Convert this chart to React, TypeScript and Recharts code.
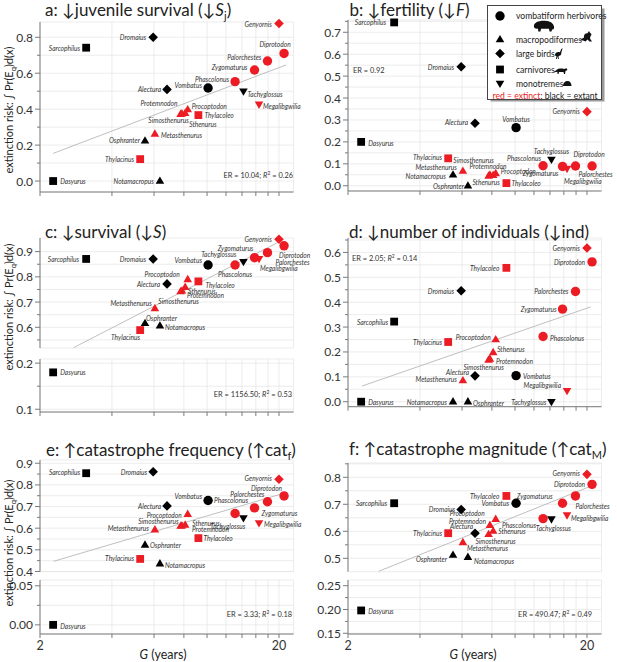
import { CartesianGrid, Scatter, ScatterChart, XAxis, YAxis } from 'recharts';

type Anchor = 'start' | 'middle' | 'end';
type Spot = [number, number, Anchor];

// species and their traits
const species = ['Dasyurus', 'Sarcophilus', 'Thylacinus', 'Thylacoleo', 'Dromaius', 'Alectura', 'Genyornis', 'Osphranter', 'Notamacropus', 'Metasthenurus', 'Simosthenurus', 'Protemnodon', 'Sthenurus', 'Procoptodon', 'Vombatus', 'Phascolonus', 'Zygomaturus', 'Palorchestes', 'Diprotodon', 'Tachyglossus', 'Megalibgwilia'];
const groups = ['carnivore', 'carnivore', 'carnivore', 'carnivore', 'bird', 'bird', 'bird', 'macropod', 'macropod', 'macropod', 'macropod', 'macropod', 'macropod', 'macropod', 'vombatiform', 'vombatiform', 'vombatiform', 'vombatiform', 'vombatiform', 'monotreme', 'monotreme'];
const extinct = [false, false, true, true, false, false, true, false, false, true, true, true, true, true, false, true, true, true, true, false, true];
const generationYears = [2.27, 3.12, 5.25, 9.2, 5.95, 6.8, 20.0, 5.5, 6.35, 6.05, 7.75, 7.85, 8.1, 8.3, 10.1, 13.1, 15.8, 17.9, 21.0, 14.2, 16.5];

// extinction risk per scenario (same order as species)
const juvenileSurvivalRisk = [0.0, 0.742, 0.122, 0.367, 0.8, 0.51, 0.877, 0.224, 0.0, 0.262, 0.372, 0.375, 0.378, 0.398, 0.518, 0.553, 0.618, 0.668, 0.71, 0.5, 0.427];
const fertilityRisk = [0.2, 0.745, 0.125, 0.012, 0.543, 0.285, 0.338, 0.05, 0.0, 0.067, 0.045, 0.05, 0.048, 0.056, 0.265, 0.091, 0.088, 0.09, 0.09, 0.12, 0.078];
const survivalRisk = [0.18, 0.871, 0.589, 0.782, 0.871, 0.772, 0.949, 0.616, 0.606, 0.675, 0.742, 0.745, 0.759, 0.79, 0.847, 0.847, 0.876, 0.896, 0.923, 0.86, 0.872];
const individualsRisk = [0.0, 0.322, 0.24, 0.538, 0.446, 0.104, 0.618, 0.0, 0.0, 0.085, 0.168, 0.172, 0.198, 0.25, 0.105, 0.262, 0.372, 0.443, 0.562, 0.0, 0.044];
const catFrequencyRisk = [0.0, 0.854, 0.458, 0.554, 0.861, 0.703, 0.826, 0.523, 0.436, 0.593, 0.61, 0.612, 0.615, 0.665, 0.728, 0.668, 0.694, 0.722, 0.749, 0.647, 0.624];
const catMagnitudeRisk = [0.198, 0.704, 0.593, 0.731, 0.681, 0.593, 0.811, 0.512, 0.504, 0.559, 0.589, 0.623, 0.601, 0.645, 0.704, 0.647, 0.704, 0.731, 0.774, 0.645, 0.66];

// fitted trend end points
const trendJuvenileG = [2.27, 21.4];
const trendJuvenileRisk = [0.154, 0.646];
const trendSurvivalG = [2.76, 20.5];
const trendSurvivalRisk = [0.519, 0.944];
const trendIndividualsG = [2.29, 20.7];
const trendIndividualsRisk = [0.063, 0.381];
const trendFrequencyG = [2.28, 20.6];
const trendFrequencyRisk = [0.447, 0.759];
const trendMagnitudeG = [2.69, 21.0];
const trendMagnitudeRisk = [0.452, 0.769];

// axis ticks
const gTicks = [2, 4, 6, 8, 10, 12, 14, 16, 18, 20];
const gTickLabels = [2, 20];
const ticksA = [0, 0.1, 0.2, 0.3, 0.4, 0.5, 0.6, 0.7, 0.8];
const labelsA = [0, 0.2, 0.4, 0.6, 0.8];
const ticksB = [0, 0.05, 0.1, 0.15, 0.2, 0.25, 0.3, 0.35, 0.4, 0.45, 0.5, 0.55, 0.6, 0.65, 0.7, 0.75];
const labelsB = [0, 0.1, 0.2, 0.3, 0.4, 0.5, 0.6, 0.7];
const ticksCUpper = [0.55, 0.6, 0.65, 0.7, 0.75, 0.8, 0.85, 0.9];
const labelsCUpper = [0.6, 0.7, 0.8, 0.9];
const ticksCLower = [0.1, 0.15, 0.2];
const labelsCLower = [0.1, 0.2];
const ticksD = [0, 0.05, 0.1, 0.15, 0.2, 0.25, 0.3, 0.35, 0.4, 0.45, 0.5, 0.55, 0.6, 0.65];
const labelsD = [0, 0.1, 0.2, 0.3, 0.4, 0.5, 0.6];
const ticksEUpper = [0.4, 0.45, 0.5, 0.55, 0.6, 0.65, 0.7, 0.75, 0.8, 0.85, 0.9];
const labelsEUpper = [0.4, 0.5, 0.6, 0.7, 0.8, 0.9];
const ticksELower = [0, 0.025, 0.05];
const labelsELower = [0, 0.05];
const ticksFUpper = [0.5, 0.55, 0.6, 0.65, 0.7, 0.75, 0.8, 0.85];
const labelsFUpper = [0.5, 0.6, 0.7, 0.8];
const ticksFLower = [0.15, 0.175, 0.2, 0.225, 0.25];
const labelsFLower = [0.15, 0.2, 0.25];

// where each species name sits next to its marker, per panel
const spotsA: Record<string, Spot> = {
  Dasyurus: [7, 0, 'start'], Sarcophilus: [-6, 0, 'end'], Thylacinus: [-6, 0, 'end'], Thylacoleo: [6, 0, 'start'],
  Dromaius: [-7, 0, 'end'], Alectura: [-6, 0, 'end'], Genyornis: [-7, 1, 'end'], Osphranter: [-5, -1, 'end'],
  Notamacropus: [-6, 0, 'end'], Metasthenurus: [6, 1, 'start'], Simosthenurus: [-12, 6, 'middle'], Protemnodon: [-23, -11, 'middle'],
  Sthenurus: [4, 11, 'start'], Procoptodon: [4, -4, 'start'], Vombatus: [-6, -3, 'end'], Phascolonus: [-6, -3, 'end'],
  Zygomaturus: [-7, -3, 'end'], Palorchestes: [-6, -4, 'end'], Diprotodon: [-9, -9, 'middle'], Tachyglossus: [4, 3, 'start'],
  Megalibgwilia: [4, 2, 'start'],
};
const spotsB: Record<string, Spot> = {
  Dasyurus: [7, 1, 'start'], Sarcophilus: [-8, 0, 'end'], Thylacinus: [-6, -1, 'end'], Thylacoleo: [5, 0, 'start'],
  Dromaius: [-7, 0, 'end'], Alectura: [-7, -1, 'end'], Genyornis: [-7, -1, 'end'], Osphranter: [11, 11, 'end'],
  Notamacropus: [-22, -10, 'end'], Metasthenurus: [-6, -4, 'end'], Simosthenurus: [-15, -16, 'middle'], Protemnodon: [-2, -9, 'middle'],
  Sthenurus: [-7, 7, 'middle'], Procoptodon: [5, -2, 'start'], Vombatus: [0, -9, 'middle'], Phascolonus: [-2, -8, 'end'],
  Zygomaturus: [-4, 7, 'end'], Palorchestes: [3, 8, 'start'], Diprotodon: [-3, -12, 'middle'], Tachyglossus: [0, -8, 'middle'],
  Megalibgwilia: [-3, 12, 'start'],
};
const spotsC: Record<string, Spot> = {
  Dasyurus: [7, 0, 'start'], Sarcophilus: [-7, 0, 'end'], Thylacinus: [0, 7, 'end'], Thylacoleo: [7, 4, 'start'],
  Dromaius: [-7, 0, 'end'], Alectura: [-7, 0, 'end'], Genyornis: [-7, 0, 'end'], Osphranter: [1, -5, 'start'],
  Notamacropus: [5, 1, 'start'], Metasthenurus: [-3, -5, 'end'], Simosthenurus: [-2, 10, 'middle'], Protemnodon: [5, 4, 'start'],
  Sthenurus: [3, 4, 'start'], Procoptodon: [-8, -5, 'end'], Vombatus: [-6, -5, 'end'], Phascolonus: [0, 9, 'middle'],
  Zygomaturus: [-1, -10, 'end'], Palorchestes: [8, 9, 'start'], Diprotodon: [-5, 9, 'start'], Tachyglossus: [-7, -8, 'end'],
  Megalibgwilia: [1, 9, 'start'],
};
const spotsD: Record<string, Spot> = {
  Dasyurus: [7, 0, 'start'], Sarcophilus: [-6, 0, 'end'], Thylacinus: [-6, 0, 'end'], Thylacoleo: [-7, 0, 'end'],
  Dromaius: [-7, 0, 'end'], Alectura: [-6, -4, 'end'], Genyornis: [-7, 0, 'end'], Osphranter: [20, 1, 'start'],
  Notamacropus: [-21, 0, 'end'], Metasthenurus: [-6, -2, 'end'], Simosthenurus: [-5, 7, 'middle'], Protemnodon: [6, 2, 'start'],
  Sthenurus: [4, -3, 'start'], Procoptodon: [-5, -3, 'end'], Vombatus: [7, 0, 'start'], Phascolonus: [7, 1, 'start'],
  Zygomaturus: [-6, 0, 'end'], Palorchestes: [-7, 0, 'end'], Diprotodon: [-7, 0, 'end'], Tachyglossus: [-5, 0, 'end'],
  Megalibgwilia: [-6, -6, 'end'],
};
const spotsE: Record<string, Spot> = {
  Dasyurus: [7, 1, 'start'], Sarcophilus: [-6, -1, 'end'], Thylacinus: [-6, -1, 'end'], Thylacoleo: [5, 0, 'start'],
  Dromaius: [-6, 0, 'end'], Alectura: [-6, 0, 'end'], Genyornis: [-7, -1, 'end'], Osphranter: [5, 0, 'start'],
  Notamacropus: [5, 1, 'start'], Metasthenurus: [-6, -2, 'end'], Simosthenurus: [-2, -5, 'end'], Protemnodon: [10, 3, 'start'],
  Sthenurus: [7, -2, 'start'], Procoptodon: [-6, 1, 'end'], Vombatus: [-6, -4, 'end'], Phascolonus: [-21, -13, 'start'],
  Zygomaturus: [7, 5, 'start'], Palorchestes: [-3, -8, 'end'], Diprotodon: [-2, -8, 'end'], Tachyglossus: [2, 8, 'end'],
  Megalibgwilia: [5, 1, 'start'],
};
const spotsF: Record<string, Spot> = {
  Dasyurus: [7, 1, 'start'], Sarcophilus: [-7, 0, 'end'], Thylacinus: [-6, 0, 'end'], Thylacoleo: [-7, 0, 'end'],
  Dromaius: [-6, 0, 'end'], Alectura: [-2, -7, 'end'], Genyornis: [-7, -1, 'end'], Osphranter: [-6, 4, 'end'],
  Notamacropus: [6, 4, 'start'], Metasthenurus: [4, 6, 'start'], Simosthenurus: [7, 7, 'middle'], Protemnodon: [-4, -4, 'end'],
  Sthenurus: [5, 0, 'start'], Procoptodon: [-11, -6, 'end'], Vombatus: [-7, 0, 'end'], Phascolonus: [-7, 6, 'end'],
  Zygomaturus: [-10, -7, 'end'], Palorchestes: [0, 10, 'start'], Diprotodon: [-7, 0, 'end'], Tachyglossus: [2, 9, 'middle'],
  Megalibgwilia: [4, 3, 'start'],
};

const FONT = 'Lato, "Noto Sans", sans-serif';
const RED = '#ec1c24';
const AXIS = '#7a7a7a';
const GRID = '#e4e4e4';
const TREND = '#b8b8b8';
const YW = 40;
const MT = 8;
const MR = 26;
const PLOT_W = 253.5;

type Part = {
  top: number;
  bottom: number;
  domain: [number, number];
  ticks: number[];
  labelled: number[];
  digits: number;
  xAxis: 'none' | 'ticks' | 'labels';
};

type PanelProps = {
  left: number;
  parts: Part[];
  values: number[];
  spots: Record<string, Spot>;
  trendG: number[];
  trendRisk: number[];
};

function markerPath(group: string, cx: number, cy: number) {
  if (group === 'bird') return `M${cx},${cy - 4.8}L${cx + 4.8},${cy}L${cx},${cy + 4.8}L${cx - 4.8},${cy}Z`;
  if (group === 'macropod') return `M${cx},${cy - 4.6}L${cx + 4.3},${cy + 2.8}L${cx - 4.3},${cy + 2.8}Z`;
  if (group === 'monotreme') return `M${cx},${cy + 4.6}L${cx + 4.3},${cy - 2.8}L${cx - 4.3},${cy - 2.8}Z`;
  return '';
}

function Marker({ group, cx, cy, fill }: { group: string; cx: number; cy: number; fill: string }) {
  if (group === 'vombatiform') return <circle cx={cx} cy={cy} r={4.7} fill={fill} />;
  if (group === 'carnivore') return <rect x={cx - 3.9} y={cy - 3.9} width={7.8} height={7.8} fill={fill} />;
  return <path d={markerPath(group, cx, cy)} fill={fill} />;
}

const markerShape = (p: any) => {
  const { cx, cy, payload } = p;
  return <Marker group={payload.group} cx={cx} cy={cy} fill={payload.red ? RED : '#000'} />;
};

const labelShape = (spots: Record<string, Spot>) => (p: any) => {
  const { cx, cy, payload } = p;
  const [dx, dy, anchor] = spots[payload.name] ?? [-7, 0, 'end'];
  return (
    <text x={cx + dx} y={cy + dy} textAnchor={anchor} dominantBaseline="central" fontSize={6.6} fontStyle="italic" fill="#333" fontFamily={FONT}>
      {payload.name}
    </text>
  );
};

const yTick = (labelled: number[], digits: number) => (p: any) => {
  const { x, y, payload } = p;
  const major = labelled.some((m) => Math.abs(m - payload.value) < 1e-9);
  return (
    <g>
      <line x1={x} x2={x - (major ? 5 : 3)} y1={y} y2={y} stroke={AXIS} strokeWidth={1} />
      {major && (
        <text x={x - 7} y={y} textAnchor="end" dominantBaseline="central" fontSize={12} fill="#333" fontFamily={FONT}>
          {payload.value.toFixed(digits)}
        </text>
      )}
    </g>
  );
};

const gLabel = (withLabels: boolean) => (v: number) => (withLabels && gTickLabels.includes(v) ? String(v) : '');

function Panel({ left, parts, values, spots, trendG, trendRisk }: PanelProps) {
  const points = species.map((name, i) => ({
    name,
    g: generationYears[i],
    v: values[i],
    group: groups[i],
    red: extinct[i],
  }));
  const trend = trendG.map((g, i) => ({ g, v: trendRisk[i] }));
  return (
    <>
      {parts.map((part, k) => {
        const inPart = points.filter((pt) => pt.v >= part.domain[0] && pt.v <= part.domain[1]);
        const xh = part.xAxis === 'labels' ? 24 : 8;
        const h = part.bottom - part.top;
        const hasAxis = part.xAxis !== 'none';
        return (
          <div key={k} style={{ position: 'absolute', left: left - YW, top: part.top - MT }}>
            <ScatterChart width={PLOT_W + YW + MR} height={h + MT + xh} margin={{ top: MT, right: MR, bottom: 0, left: 0 }}>
              <CartesianGrid stroke={GRID} strokeWidth={0.7} />
              <XAxis
                type="number"
                dataKey="g"
                scale="log"
                domain={[2, 23]}
                ticks={gTicks}
                interval={0}
                height={xh}
                tickSize={4}
                tickMargin={3}
                tickLine={hasAxis ? { stroke: AXIS } : false}
                axisLine={hasAxis ? { stroke: AXIS } : false}
                tick={hasAxis ? { fontSize: 12.5, fill: '#333', fontFamily: FONT } : false}
                tickFormatter={gLabel(part.xAxis === 'labels')}
              />
              <YAxis
                type="number"
                dataKey="v"
                domain={part.domain}
                ticks={part.ticks}
                interval={0}
                width={YW}
                tickSize={0}
                tickMargin={0}
                tickLine={false}
                axisLine={{ stroke: AXIS }}
                tick={yTick(part.labelled, part.digits)}
              />
              {k === 0 && trend.length > 0 && (
                <Scatter data={trend} line={{ stroke: TREND, strokeWidth: 0.9 }} shape={() => <g />} isAnimationActive={false} />
              )}
              <Scatter data={inPart} shape={labelShape(spots)} isAnimationActive={false} />
              <Scatter data={inPart} shape={markerShape} isAnimationActive={false} />
            </ScatterChart>
          </div>
        );
      })}
    </>
  );
}

const LEFT_COL = 40;
const RIGHT_COL = 348.3;

function Title({ x, y, children }: { x: number; y: number; children: any }) {
  return (
    <text x={x} y={y} fontSize={17} fill="#222" fontFamily={FONT}>
      {children}
    </text>
  );
}

function YLabel({ cy }: { cy: number }) {
  return (
    <text transform={`translate(12.5 ${cy}) rotate(-90)`} textAnchor="middle" fontSize={11} fill="#222" fontFamily={FONT}>
      extinction risk: ∫ Pr(E<tspan fontSize={7.5} dy={3}>q</tspan>
      <tspan dy={-3}>)d(x)</tspan>
    </text>
  );
}

function ER({ x, y, anchor, er, r2 }: { x: number; y: number; anchor: Anchor; er: string; r2?: string }) {
  return (
    <text x={x} y={y} textAnchor={anchor} fontSize={7.4} fill="#333" fontFamily={FONT}>
      ER = {er}
      {r2 && (
        <>
          ; <tspan fontStyle="italic">R</tspan>
          <tspan fontSize={5} dy={-3}>2</tspan>
          <tspan dy={3}> = {r2}</tspan>
        </>
      )}
    </text>
  );
}

function Legend() {
  const tx = 516;
  const ts = 8.6;
  return (
    <g fontFamily={FONT}>
      <rect x={490.5} y={8.5} width={114} height={93} fill="#9a9a9a" />
      <rect x={487.5} y={5.5} width={114} height={94} fill="#fff" stroke="#444" strokeWidth={1} />
      <Marker group="vombatiform" cx={500} cy={16} fill="#000" />
      <text x={tx} y={19} fontSize={ts} fill="#222">vombatiform herbivores</text>
      <path d="M534,27 C533,22.5 539,20.5 545,20.8 C550,21 553,23 554,26.5 C554.5,28.5 553.5,30 552,29.5 L551.5,31.5 L549.5,31.5 L549,28.8 L541,28.8 L540.5,31.5 L538.3,31.5 L538,28.5 C536,29 534.5,28.5 534,27 Z" fill="#111" />
      <Marker group="macropod" cx={500} cy={39.5} fill="#000" />
      <text x={tx} y={42.5} fontSize={ts} fill="#222">macropodiformes</text>
      <path d="M580,40 L584,37.5 C583.5,35 585,33 587.5,33.2 L589,31 L590,32.8 C591.5,33.5 592,35 590.5,36 L590,38.5 L592,41.5 L589.5,41.5 L587.5,39.5 L585.5,41.5 L583,40.5 Z" fill="#111" />
      <Marker group="bird" cx={500} cy={53.5} fill="#000" />
      <text x={tx} y={56.5} fontSize={ts} fill="#222">large birds</text>
      <path d="M555,55 C555,52.5 557.5,51.5 560,52.2 L561.2,49 L562.8,48.3 L562.2,49.5 L561.3,53 C561.5,55 560,56 558.5,56 L558.8,59 L558,59 L557.6,56.2 L556.8,59 L556,59 L556.5,56 C555.5,56 555,55.5 555,55 Z" fill="#111" />
      <Marker group="carnivore" cx={500} cy={69.5} fill="#000" />
      <text x={tx} y={72.5} fontSize={ts} fill="#222">carnivores</text>
      <path d="M553,72.5 L556.5,70 C558,68.5 562,68.3 564,69 L566.5,68.2 L567.5,70 L565.5,71 L565,74 L564,74 L563.5,72 L559,72 L558.5,74 L557.5,74 L557.3,71.7 Z" fill="#111" />
      <Marker group="monotreme" cx={500} cy={83.5} fill="#000" />
      <text x={tx} y={86.5} fontSize={ts} fill="#222">monotremes</text>
      <path d="M563,86 C563,82.5 565.5,81 567.5,81 C570,81 571.5,83 571.5,86 Z" fill="#111" />
      <text x={492.5} y={98.5} fontSize={ts} fill="#222">
        <tspan fill={RED}>red = extinct</tspan>; black = extant
      </text>
    </g>
  );
}

function Overlay() {
  return (
    <svg width={617} height={662} style={{ position: 'absolute', left: 0, top: 0, pointerEvents: 'none' }}>
      <Title x={45} y={16}>
        a: ↓juvenile survival (↓<tspan fontStyle="italic">S</tspan>
        <tspan fontSize={11} dy={4}>j</tspan>
        <tspan dy={-4}>)</tspan>
      </Title>
      <Title x={349.5} y={16}>
        b: ↓fertility (↓<tspan fontStyle="italic">F</tspan>)
      </Title>
      <Title x={45} y={237.5}>
        c: ↓survival (↓<tspan fontStyle="italic">S</tspan>)
      </Title>
      <Title x={349} y={237.5}>d: ↓number of individuals (↓ind)</Title>
      <Title x={46} y={456}>
        e: ↑catastrophe frequency (↑cat<tspan fontSize={11} dy={4}>f</tspan>
        <tspan dy={-4}>)</tspan>
      </Title>
      <Title x={349} y={455}>
        f: ↑catastrophe magnitude (↑cat<tspan fontSize={11} dy={4}>M</tspan>
        <tspan dy={-4}>)</tspan>
      </Title>
      <YLabel cy={110} />
      <YLabel cy={307} />
      <YLabel cy={543} />
      <ER x={293} y={177.5} anchor="end" er="10.04" r2="0.26" />
      <ER x={353} y={73} anchor="start" er="0.92" />
      <ER x={292} y={396.5} anchor="end" er="1156.50" r2="0.53" />
      <ER x={352} y={260.5} anchor="start" er="2.05" r2="0.14" />
      <ER x={292} y={616.5} anchor="end" er="3.33" r2="0.18" />
      <ER x={592} y={616.5} anchor="end" er="490.47" r2="0.49" />
      <text x={163} y={659} textAnchor="middle" fontSize={12.5} fill="#222" fontFamily={FONT}>
        <tspan fontStyle="italic">G</tspan> (years)
      </text>
      <text x={473} y={659} textAnchor="middle" fontSize={12.5} fill="#222" fontFamily={FONT}>
        <tspan fontStyle="italic">G</tspan> (years)
      </text>
      <Legend />
    </svg>
  );
}

export default function App() {
  return (
    <div style={{ position: 'relative', width: 617, height: 662, background: '#fff', overflow: 'hidden', fontFamily: FONT }}>
      <style>{'body{margin:0}'}</style>
      <Panel
        left={LEFT_COL}
        values={juvenileSurvivalRisk}
        spots={spotsA}
        trendG={trendJuvenileG}
        trendRisk={trendJuvenileRisk}
        parts={[{ top: 22, bottom: 192, domain: [-0.061, 0.885], ticks: ticksA, labelled: labelsA, digits: 1, xAxis: 'ticks' }]}
      />
      <Panel
        left={RIGHT_COL}
        values={fertilityRisk}
        spots={spotsB}
        trendG={[]}
        trendRisk={[]}
        parts={[{ top: 20, bottom: 191, domain: [-0.024, 0.756], ticks: ticksB, labelled: labelsB, digits: 1, xAxis: 'ticks' }]}
      />
      <Panel
        left={LEFT_COL}
        values={survivalRisk}
        spots={spotsC}
        trendG={trendSurvivalG}
        trendRisk={trendSurvivalRisk}
        parts={[
          { top: 238, bottom: 348, domain: [0.518, 0.954], ticks: ticksCUpper, labelled: labelsCUpper, digits: 1, xAxis: 'none' },
          { top: 359, bottom: 412, domain: [0.094, 0.209], ticks: ticksCLower, labelled: labelsCLower, digits: 1, xAxis: 'ticks' },
        ]}
      />
      <Panel
        left={RIGHT_COL}
        values={individualsRisk}
        spots={spotsD}
        trendG={trendIndividualsG}
        trendRisk={trendIndividualsRisk}
        parts={[{ top: 238, bottom: 406.7, domain: [-0.02, 0.658], ticks: ticksD, labelled: labelsD, digits: 1, xAxis: 'ticks' }]}
      />
      <Panel
        left={LEFT_COL}
        values={catFrequencyRisk}
        spots={spotsE}
        trendG={trendFrequencyG}
        trendRisk={trendFrequencyRisk}
        parts={[
          { top: 460, bottom: 571.7, domain: [0.399, 0.915], ticks: ticksEUpper, labelled: labelsEUpper, digits: 1, xAxis: 'none' },
          { top: 580, bottom: 634, domain: [-0.0117, 0.0574], ticks: ticksELower, labelled: labelsELower, digits: 2, xAxis: 'labels' },
        ]}
      />
      <Panel
        left={RIGHT_COL}
        values={catMagnitudeRisk}
        spots={spotsF}
        trendG={trendMagnitudeG}
        trendRisk={trendMagnitudeRisk}
        parts={[
          { top: 463, bottom: 571.7, domain: [0.4504, 0.853], ticks: ticksFUpper, labelled: labelsFUpper, digits: 1, xAxis: 'none' },
          { top: 580, bottom: 634, domain: [0.1485, 0.262], ticks: ticksFLower, labelled: labelsFLower, digits: 2, xAxis: 'labels' },
        ]}
      />
      <Overlay />
    </div>
  );
}
